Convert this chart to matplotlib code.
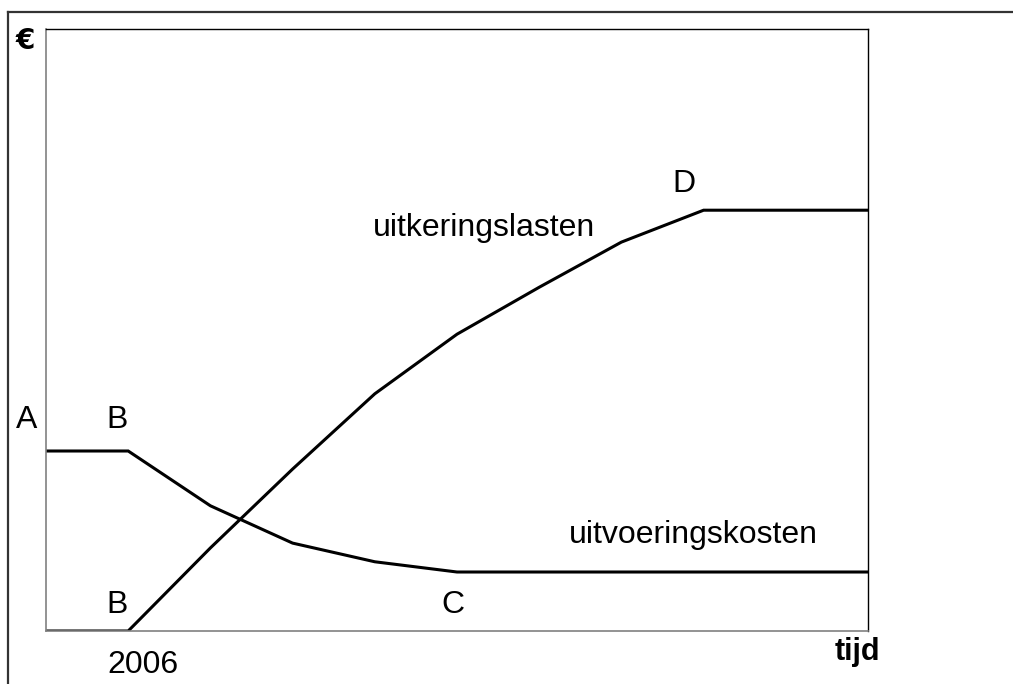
import matplotlib
matplotlib.use("Agg")
import matplotlib.pyplot as plt
from matplotlib.lines import Line2D

# Data (arbitrary units, time index)
tijd = [0, 1, 2, 3, 4, 5, 6, 7, 8, 9, 10]
uitkeringslasten = [0, 0, 13.8, 26.9, 39.4, 49.3, 57.1, 64.6, 69.9, 69.9, 69.9]
uitvoeringskosten = [29.9, 29.9, 20.8, 14.6, 11.5, 9.8, 9.8, 9.8, 9.8, 9.8, 9.8]

W, H = 1013, 684
fig = plt.figure(figsize=(W / 100, H / 100), dpi=100)
FONT = "Liberation Sans"

def px(x, y):
    return x / W, 1 - y / H

ax = fig.add_axes([46 / W, (H - 631) / H, 822 / W, 602 / H])
ax.plot(tijd, uitkeringslasten, color="black", lw=2.2, solid_joinstyle="miter")
ax.plot(tijd, uitvoeringskosten, color="black", lw=2.2, solid_joinstyle="miter")
ax.set_xlim(0, 10)
ax.set_ylim(0, 100)
ax.set_xticks([])
ax.set_yticks([])
for s in ["top", "right"]:
    ax.spines[s].set_color("black")
    ax.spines[s].set_linewidth(1.0)
for s in ["left", "bottom"]:
    ax.spines[s].set_color("#808080")
    ax.spines[s].set_linewidth(1.2)

# Outer frame
fig.add_artist(Line2D([8 / W, 8 / W], [0, 1 - 12 / H], transform=fig.transFigure,
                      color="#333333", lw=1.6))
fig.add_artist(Line2D([8 / W, 1], [1 - 12 / H, 1 - 12 / H], transform=fig.transFigure,
                      color="#333333", lw=1.6))

fs = 23
def label(x, y, s, ha="center", weight="normal", size=fs, family=FONT):
    fig.text(*px(x, y), s, ha=ha, va="baseline", fontsize=size,
             family=[family, "DejaVu Sans"], weight=weight)

label(25.5, 49, "€", weight="bold", size=20, family="DejaVu Sans")
label(27, 428, "A")
label(117, 428, "B")
label(117, 613, "B")
label(143, 673, "2006")
label(453, 613, "C")
label(684, 192, "D")
label(373, 236, "uitkeringslasten", ha="left")
label(569, 543, "uitvoeringskosten", ha="left")
label(835, 660, "tijd", ha="left", weight="bold", size=22)

fig.savefig("out.png", dpi=100)
